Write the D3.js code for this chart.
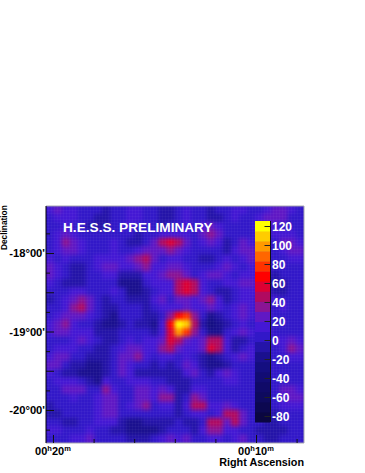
<!DOCTYPE html>
<html><head><meta charset="utf-8">
<script src="https://cdn.jsdelivr.net/npm/d3@7"></script>
<style>html,body{margin:0;background:#fff}svg{display:block}text{font-family:"Liberation Sans",Arial,sans-serif;font-weight:bold}</style>
</head><body><svg id="c" width="365" height="473"></svg>
<script>
const raTicks=[20,18,16,14,12,10,8];
const decMinor=[-17.75,-18,-18.25,-18.5,-18.75,-19,-19.25,-19.5,-19.75,-20,-20.25];
const decLabels=[[-18,"-18°00'"],[-19,"-19°00'"],[-20,"-20°00'"]];
const barTicks=[120,100,80,60,40,20,0,-20,-40,-60,-80];
const palette=["#0a0640","#0c0850","#0e0a5e","#100a68","#120c74","#140e80","#1a108e","#2414a8","#3218c8","#4418d4","#6018c4","#8a1494","#b00a60","#dd0033","#ff0000","#ff3300","#ff6600","#ff9900","#ffcc00","#ffff00"];
const counts=[
[12,20,16,10,8,4,0,-2,3,6,10,12,8,3,-2,-2,4,10,6,0,-2,0,6,12,14,8,6,18,25,22,12,8],
[8,10,14,12,6,2,-5,-8,0,6,12,16,6,0,-6,-5,6,14,8,4,-2,-6,3,10,8,6,12,22,26,20,8,6],
[4,6,12,6,3,-2,-7,-6,0,6,10,8,3,0,-2,0,8,12,8,10,22,16,8,6,4,6,10,14,10,6,4,3],
[6,12,22,18,6,3,0,0,4,4,0,-2,3,6,10,14,16,12,6,24,38,26,6,0,0,8,10,8,12,10,16,8],
[8,16,36,30,12,6,6,8,10,0,-5,-2,6,20,44,52,42,20,6,18,28,14,-4,6,24,16,6,3,8,20,30,18],
[6,10,26,24,10,4,3,6,12,6,3,16,30,24,22,32,24,12,6,3,6,3,-6,10,20,26,16,8,6,12,24,24],
[10,6,10,8,3,0,10,18,16,14,20,38,44,20,8,12,10,8,4,-4,-2,6,10,8,12,28,18,8,6,8,10,12],
[24,12,3,-2,-2,2,12,24,24,16,12,28,34,14,12,28,24,12,3,0,6,18,30,16,6,10,8,3,2,6,8,8],
[26,10,0,-6,-5,0,6,16,12,-4,-12,-2,12,16,20,34,38,24,8,12,22,26,18,8,12,18,12,0,-5,3,6,6],
[10,4,-2,-6,-2,3,6,8,0,-14,-20,-14,2,10,12,16,48,60,44,16,4,8,14,10,24,26,16,-2,-8,-2,3,4],
[2,3,6,10,12,8,4,3,16,2,-14,-18,-6,8,10,14,42,54,42,16,6,-8,-12,0,14,18,12,0,-6,-2,2,3],
[-2,4,16,30,40,24,6,-2,0,0,-5,-8,-2,16,20,8,22,30,18,20,32,12,-4,6,12,10,6,8,12,6,4,5],
[0,8,18,36,44,26,4,-8,-6,4,8,0,-2,6,18,14,16,24,14,10,24,12,6,16,24,16,8,6,8,10,6,6],
[6,18,20,24,24,18,3,-8,-14,0,6,2,-8,-6,8,38,72,80,34,0,-16,-10,8,18,20,10,6,12,6,4,6,8],
[10,28,32,16,8,4,-6,-14,-16,-6,3,-2,-12,-14,16,62,122,108,42,-8,-26,-20,-6,6,10,6,4,6,3,0,2,6],
[14,22,20,14,18,12,-2,-10,-8,3,8,4,0,-2,14,56,100,78,34,0,-16,-14,3,14,20,12,8,16,8,6,4,3],
[8,8,8,14,22,16,3,-4,-2,6,12,8,12,18,26,52,50,28,16,20,44,50,16,-2,-4,4,6,8,12,16,24,16],
[4,12,18,14,6,3,-6,-8,0,10,20,26,18,14,34,42,24,16,10,28,52,44,14,-6,3,12,6,3,6,18,32,20],
[18,24,22,6,0,-6,-10,-8,3,20,28,32,18,6,12,10,6,12,3,-8,-14,-10,0,10,24,16,4,2,3,8,18,14],
[28,20,6,-2,-10,-14,-14,-8,6,26,12,6,2,-2,0,-2,0,22,10,-10,-20,-18,-8,3,8,8,3,0,2,4,6,6],
[14,6,-2,-12,-18,-18,-16,-8,6,24,14,-2,-6,-10,-8,-10,-5,18,24,6,-4,14,26,14,2,3,2,0,2,3,3,4],
[4,12,16,18,3,-12,-14,12,8,6,10,14,18,6,0,-4,-8,-2,6,8,3,8,18,10,0,2,3,2,2,3,3,5],
[3,8,24,30,20,6,6,34,18,6,6,24,28,18,28,18,-6,-2,12,10,6,3,6,8,3,6,4,3,8,20,26,18],
[0,2,6,12,8,6,12,24,20,3,8,20,22,18,38,32,-10,4,34,24,6,4,6,0,0,3,3,2,6,18,28,22],
[-4,0,3,2,0,4,16,30,24,8,12,30,34,8,16,18,-8,10,50,42,12,10,24,16,3,0,0,0,3,12,16,14],
[-2,-2,0,0,2,6,10,26,20,4,0,8,3,2,6,4,-6,0,14,12,0,14,44,50,24,6,3,0,-2,3,6,6],
[2,0,-2,-2,2,8,10,16,10,-4,-14,-14,-10,-12,-8,-2,0,-4,-6,8,42,48,30,42,26,6,2,-6,-5,0,3,4],
[16,14,4,3,6,10,6,6,-2,-10,-18,-20,-20,-18,-6,6,8,3,-4,10,36,34,14,10,8,2,-4,-10,-8,-2,2,3],
[6,6,8,14,18,20,8,4,3,0,-6,-8,-6,2,12,20,12,24,8,3,12,10,6,18,22,8,0,-6,-2,3,3,6]
];
const margin={l:46,t:206,r:304,b:443};
const rows=counts.length, cols=counts[0].length;
const ra=d3.scaleLinear().domain([20,10]).range([53,256]);
const dec=d3.scaleLinear().domain([-18,-20]).range([253,410]);
const colX=d3.scaleBand().domain(d3.range(cols)).range([margin.l,margin.r]);
const rowY=d3.scaleBand().domain(d3.range(rows)).range([margin.t,margin.b]);
const barV=d3.scaleLinear().domain([120,-80]).range([226,416]);
const barDomain=[barV.invert(221),barV.invert(422)];
const color=d3.scaleQuantize().domain([barDomain[1],barDomain[0]]).range(palette);
const svg=d3.select("#c");
const defs=svg.append("defs");
defs.append("clipPath").attr("id","plot").append("rect").attr("x",margin.l).attr("y",margin.t).attr("width",margin.r-margin.l).attr("height",margin.b-margin.t);
const f=defs.append("filter").attr("id","soft").attr("x","-5%").attr("y","-5%").attr("width","110%").attr("height","110%").attr("color-interpolation-filters","sRGB");
f.append("feGaussianBlur").attr("stdDeviation",1.9);
const pat=defs.append("pattern").attr("id","mesh").attr("patternUnits","userSpaceOnUse").attr("width",3).attr("height",3);
pat.append("path").attr("d","M0.5,0V3M0,0.5H3").attr("stroke","#fff").attr("stroke-opacity",.03).attr("stroke-width",1);
svg.append("rect").attr("x",margin.l).attr("y",margin.t).attr("width",margin.r-margin.l).attr("height",margin.b-margin.t).attr("fill","#3218c8");
const flat=counts.flatMap((r,i)=>r.map((v,j)=>({i,j,v})));
svg.append("g").attr("clip-path","url(#plot)").append("g").attr("filter","url(#soft)")
 .selectAll("rect").data(flat).join("rect")
 .attr("x",d=>colX(d.j)-.5).attr("y",d=>rowY(d.i)-.5)
 .attr("width",colX.bandwidth()+1).attr("height",rowY.bandwidth()+1)
 .attr("fill",d=>color(d.v));
svg.append("rect").attr("x",margin.l).attr("y",margin.t).attr("width",margin.r-margin.l).attr("height",margin.b-margin.t).attr("fill","url(#mesh)");
const frame=svg.append("g");
frame.append("path").attr("d",`M${margin.l},${margin.t}H${margin.r}V${margin.b}H${margin.l}`).attr("fill","none").attr("stroke","#a8a8b0").attr("stroke-width",1);
const yAxis=d3.axisRight(dec).tickValues(decMinor).tickSize(5).tickFormat("");
const gy=svg.append("g").attr("transform",`translate(${margin.l},0)`).call(yAxis);
gy.select(".domain").remove();
gy.selectAll("line").attr("stroke","#111").attr("x2",d=>Math.abs(d*2%1)<1e-6?8:4);
svg.append("line").attr("x1",margin.l).attr("x2",margin.l).attr("y1",margin.t).attr("y2",margin.b).attr("stroke","#000").attr("stroke-width",1);
svg.append("g").selectAll("text").data(decLabels).join("text")
 .attr("x",45).attr("y",d=>dec(d[0])+4).attr("text-anchor","end").attr("font-size",11.2).attr("fill","#000").text(d=>d[1]);
const xAxis=d3.axisTop(ra).tickValues(raTicks).tickSize(5).tickFormat("");
const gx=svg.append("g").attr("transform",`translate(0,${margin.b})`).call(xAxis);
gx.select(".domain").remove();
gx.selectAll("line").attr("stroke","#111").attr("y2",d=>d%10===0?-8:-4);
const raLab=svg.append("g").selectAll("text").data([20,10]).join("text")
 .attr("x",d=>ra(d)).attr("y",454.5).attr("text-anchor","middle").attr("font-size",11).attr("fill","#000");
raLab.append("tspan").text("00");
raLab.append("tspan").attr("dy",-4).attr("font-size",7.5).text("h");
raLab.append("tspan").attr("dy",4).text(d=>d);
raLab.append("tspan").attr("dy",-4).attr("font-size",7.5).text("m");
svg.append("text").attr("x",304).attr("y",465.5).attr("text-anchor","end").attr("font-size",10.8).attr("fill","#000").text("Right Ascension");
svg.append("text").attr("transform","translate(7,250) rotate(-90)").attr("font-size",8.3).attr("fill","#000").text("Declination");
svg.append("text").attr("x",63).attr("y",232).attr("font-size",13.65).attr("fill","#fff").text("H.E.S.S. PRELIMINARY");
const bw=(422-221)/palette.length;
svg.append("g").selectAll("rect").data(palette).join("rect")
 .attr("x",255).attr("width",15).attr("y",(d,i)=>422-(i+1)*bw).attr("height",bw+.5).attr("fill",d=>d);
const barAxis=d3.axisLeft(barV).tickValues(barTicks).tickSize(6).tickFormat("");
const gb=svg.append("g").attr("transform","translate(270.5,0)").call(barAxis);
gb.select(".domain").attr("d","M0,221V422").attr("stroke","#111");
gb.selectAll("line").attr("stroke","#222");
svg.append("g").selectAll("text").data(barTicks).join("text")
 .attr("x",272).attr("y",d=>barV(d)+4.5).attr("font-size",12).attr("fill","#fff").text(d=>d);
</script></body></html>
